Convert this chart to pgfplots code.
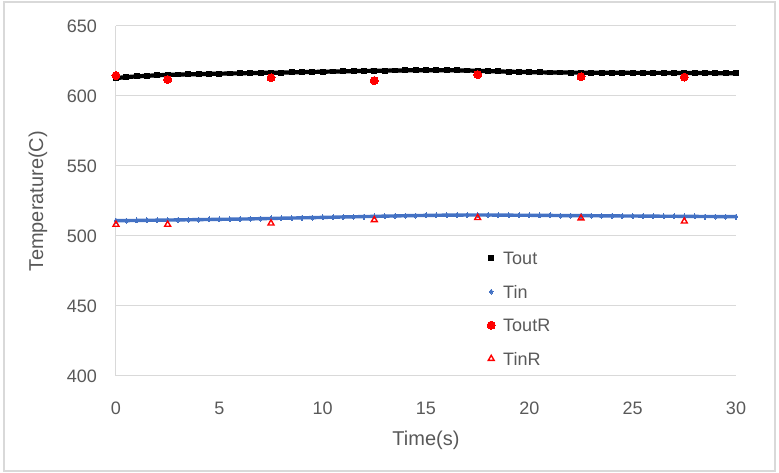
\documentclass[border=0pt]{standalone}
\usepackage{fontspec}
\setmainfont{Liberation Sans}
\usepackage{pgfplots}
\usepackage{pgfplotstable}
\pgfplotsset{compat=1.18}
\definecolor{gridgray}{HTML}{D9D9D9}
\definecolor{textgray}{HTML}{595959}
\definecolor{tinblue}{HTML}{4472C4}
\definecolor{xred}{HTML}{FF0000}

\pgfplotstableread{
t tout tin
0 612.8 511.0
0.5 613.5 511.0
1 614.0 511.1
1.5 614.4 511.2
2 614.8 511.3
2.5 615.1 511.4
3 615.3 511.5
3.5 615.5 511.6
4 615.6 511.7
4.5 615.8 511.8
5 615.9 511.9
5.5 616.1 512.0
6 616.2 512.1
6.5 616.4 512.2
7 616.5 512.4
7.5 616.6 512.5
8 616.7 512.7
8.5 616.9 512.8
9 617.0 513.0
9.5 617.2 513.1
10 617.3 513.3
10.5 617.5 513.4
11 617.6 513.6
11.5 617.8 513.7
12 617.9 513.9
12.5 618.0 514.0
13 618.1 514.2
13.5 618.2 514.3
14 618.3 514.5
14.5 618.4 514.6
15 618.4 514.7
15.5 618.4 514.8
16 618.4 514.9
16.5 618.3 514.9
17 618.2 515.0
17.5 618.0 515.0
18 617.8 515.0
18.5 617.6 514.9
19 617.3 514.9
19.5 617.2 514.8
20 617.0 514.8
20.5 616.9 514.7
21 616.8 514.7
21.5 616.8 514.6
22 616.7 514.6
22.5 616.7 514.5
23 616.6 514.5
23.5 616.6 514.4
24 616.6 514.4
24.5 616.6 514.3
25 616.5 514.3
25.5 616.5 514.2
26 616.5 514.2
26.5 616.5 514.1
27 616.4 514.1
27.5 616.4 514.0
28 616.4 514.0
28.5 616.4 513.9
29 616.3 513.9
29.5 616.3 513.8
30 616.2 513.8
}\mainseries

\pgfplotstableread{
t toutr tinr
0 614.6 508.2
2.5 611.8 508.2
7.5 613.0 509.1
12.5 611.0 511.5
17.5 615.3 513.0
22.5 613.7 512.7
27.5 613.5 510.5
}\measured

\begin{document}
\begin{tikzpicture}[x=1pt,y=1pt]
\useasboundingbox (0,0) rectangle (779,473);
\draw[gridgray, line width=1.2pt] (4,2) rectangle (775,471);
\begin{axis}[
  at={(116pt,97pt)}, anchor=south west,
  scale only axis, width=620pt, height=350pt,
  xmin=0, xmax=30, ymin=400, ymax=650,
  xtick={0,5,...,30}, ytick={400,450,...,650},
  axis x line=bottom, axis y line=left,
  axis line style={gridgray, line width=1pt, -},
  ymajorgrids, grid style={gridgray, line width=1pt},
  major tick length=0pt,
  clip=false,
  /pgf/number format/assume math mode=true,
  tick label style={font=\fontsize{18}{20}\selectfont, text=textgray},
  xticklabel style={anchor=center, inner sep=0pt, yshift=-32pt},
  yticklabel style={anchor=east, inner sep=0pt, xshift=-19pt},
  xlabel={Time(s)}, ylabel={Temperature(C)},
  label style={font=\fontsize{20}{22}\selectfont, text=textgray},
  xlabel style={at={(axis description cs:0.5,0)}, anchor=center, yshift=-64pt},
  ylabel style={at={(axis description cs:-0.1258,0.5)}, anchor=center},
  legend image code/.code={\path[draw=none, fill=none] (-5pt,-6.5pt) rectangle (5pt,6.5pt); \draw[#1] plot coordinates {(0pt,0pt)};},
  legend cell align=left,
  legend style={at={(axis description cs:0.5968,0.3557)}, anchor=north west,
    draw=none, fill=none, inner sep=0pt, row sep=20.5pt, column sep=0pt,
    font=\fontsize{18}{20}\selectfont, text=textgray,
    nodes={inner sep=0pt, text height=13pt, text depth=0pt},
    /tikz/every odd column/.style={column sep=7pt}},
]
\addplot[forget plot, black, line width=4.2pt] table[x=t, y=tout] {\mainseries};
\addplot[only marks, mark=square*, mark size=2.4pt, black, mark options={line width=0pt}] table[x=t, y=tout] {\mainseries};
\addlegendentry{Tout}
\addplot[forget plot, tinblue, line width=3.4pt] table[x=t, y=tin] {\mainseries};
\addplot[only marks, mark=diamond*, mark size=2.5pt, tinblue, mark options={line width=0pt}] table[x=t, y=tin] {\mainseries};
\addlegendentry{Tin}
\addplot[only marks, mark=*, mark size=4pt, xred, mark options={line width=0pt}] table[x=t, y=toutr] {\measured};
\addlegendentry{ToutR}
\addplot[only marks, mark=triangle, mark size=3.4pt, xred, mark options={line width=1.4pt, fill=white}] table[x=t, y=tinr] {\measured};
\addlegendentry{TinR}
\end{axis}
\end{tikzpicture}
\end{document}
